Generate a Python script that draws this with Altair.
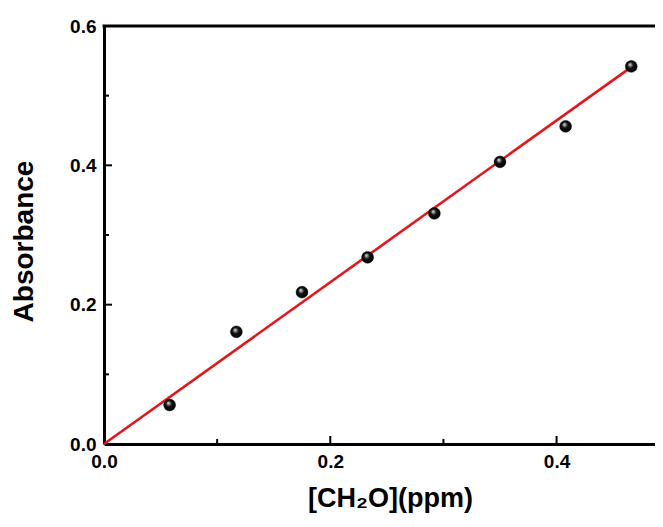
import altair as alt
import pandas as pd

conc = [0.058, 0.117, 0.175, 0.233, 0.292, 0.350, 0.408, 0.466]
absorb = [0.056, 0.161, 0.218, 0.268, 0.331, 0.405, 0.456, 0.542]
fit_x = [0.0, 0.466]
fit_y = [0.0, 0.541]
x_major = [0.2, 0.4]
x_minor = [0.1, 0.3]
y_major = [0.2, 0.4]
y_minor = [0.1, 0.3, 0.5]

W, H = 551, 418
FONT = "Liberation Sans"

pts = pd.DataFrame({"x": conc, "y": absorb})
fit = pd.DataFrame({"x": fit_x, "y": fit_y})

xs = alt.Scale(domain=[0, 0.487], nice=False, zero=False)
ys = alt.Scale(domain=[0, 0.6], nice=False)

xaxis = alt.Axis(values=[0.0, 0.2, 0.4], format=".1f", title="[CH₂O](ppm)", ticks=False,
                 domain=True, domainColor="black", domainWidth=3, grid=False, labelFlush=False,
                 labelFont=FONT, labelFontSize=19, labelFontWeight="bold",
                 labelColor="black", labelPadding=8, titleFont=FONT, titleFontSize=27,
                 titleFontWeight="bold", titleColor="black", titlePadding=14,
                 titleX=286, titleAlign="center")
yaxis = alt.Axis(values=[0.0, 0.2, 0.4, 0.6], format=".1f", title="Absorbance", ticks=False,
                 domain=True, domainColor="black", domainWidth=3, grid=False, labelFlush=False,
                 labelFont=FONT, labelFontSize=19, labelFontWeight="bold",
                 labelColor="black", labelPadding=8, titleFont=FONT, titleFontSize=28,
                 titleFontWeight="bold", titleColor="black", titlePadding=31,
                 titleY=215, titleAlign="center")

line = alt.Chart(fit).mark_line(color="#e3161b", strokeWidth=2.6).encode(
    x=alt.X("x:Q", scale=xs, axis=xaxis), y=alt.Y("y:Q", scale=ys, axis=yaxis))

grad = alt.RadialGradient(gradient="radial", x1=0.38, y1=0.32, r1=0.0, x2=0.5, y2=0.5, r2=0.55,
                          stops=[alt.GradientStop(offset=0, color="#f4f4f4"),
                                 alt.GradientStop(offset=0.45, color="#111111"),
                                 alt.GradientStop(offset=1, color="#000000")])
points = alt.Chart(pts).mark_point(filled=True, shape="circle", size=140, fill=grad, opacity=1,
                                   stroke="black", strokeWidth=0.5).encode(
    x=alt.X("x:Q", scale=xs), y=alt.Y("y:Q", scale=ys))

top_border = alt.Chart(pd.DataFrame({"a": [0]})).mark_rule(color="black", strokeWidth=3).encode(
    x=alt.value(-1.5), x2=alt.value(W), y=alt.value(0))

xticks_maj = alt.Chart(pd.DataFrame({"v": x_major})).mark_rule(color="black", strokeWidth=2).encode(
    x=alt.X("v:Q", scale=xs), y=alt.value(H), y2=alt.value(H - 8))
xticks_min = alt.Chart(pd.DataFrame({"v": x_minor})).mark_rule(color="black", strokeWidth=2).encode(
    x=alt.X("v:Q", scale=xs), y=alt.value(H), y2=alt.value(H - 5))
yticks_maj = alt.Chart(pd.DataFrame({"v": y_major})).mark_rule(color="black", strokeWidth=2).encode(
    y=alt.Y("v:Q", scale=ys), x=alt.value(0), x2=alt.value(8))
yticks_min = alt.Chart(pd.DataFrame({"v": y_minor})).mark_rule(color="black", strokeWidth=2).encode(
    y=alt.Y("v:Q", scale=ys), x=alt.value(0), x2=alt.value(5))

chart = alt.layer(top_border, xticks_maj, xticks_min, yticks_maj, yticks_min, line, points).properties(
    width=W, height=H,
    background="white",
    autosize=alt.AutoSizeParams(type="none"),
    padding={"left": 96, "top": 18, "right": 0, "bottom": 72},
).configure_view(stroke=None)

chart.save("out.html", embed_options={"renderer": "svg", "actions": False})
